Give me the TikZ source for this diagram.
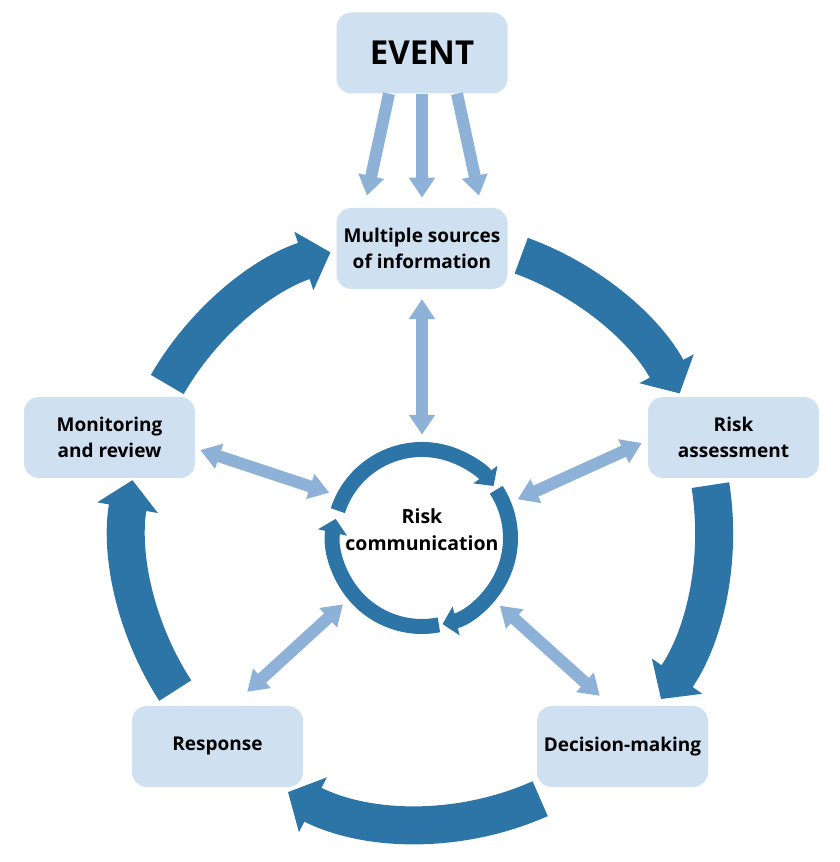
\documentclass[tikz,border=0pt]{standalone}
\usepackage{fontspec}
\setmainfont{Open Sans}
\usetikzlibrary{arrows.meta, positioning, calc}
\definecolor{boxblue}{HTML}{CFE0F1}
\definecolor{ringblue}{HTML}{2E75A7}
\definecolor{linkblue}{HTML}{8DB1D7}

\begin{document}
\begin{tikzpicture}[
    x=1pt, y=1pt,
    stage/.style={fill=boxblue, rounded corners=15pt, minimum width=171pt, minimum height=81pt, inner sep=2pt, align=center, font=\fontsize{19}{26.7}\selectfont\bfseries},
    cycle/.style={line width=38pt, ringblue, -{Triangle[length=28pt, width=60pt]}},
    ring/.style={line width=15pt, ringblue, -{Triangle[length=14pt, width=29pt]}},
    feed/.style={line width=12pt, linkblue, -{Triangle[length=20pt, width=25pt]}},
    link/.style={line width=12pt, linkblue, {Triangle[length=20pt, width=25pt]}-{Triangle[length=20pt, width=25pt]}}
  ]
    \useasboundingbox (0,0) rectangle (840,862);

    % Stages
    \node[stage, font=\fontsize{33}{40}\selectfont\bfseries] (event) at (422,809) {EVENT};
    \node[stage, below=114pt of event] (sources) {Multiple sources\\of information};
    \node[stage] (assess) at (733.5,424.5) {Risk\\assessment};
    \node[stage] (decide) at (622.5,115.5) {Decision-making};
    \node[stage] (respond) at (217.5,115.5) {Response};
    \node[stage] (monitor) at (109.5,424.5) {Monitoring\\and review};

    % Centre
    \coordinate (hub) at (421,331);
    \node[circle, minimum size=206pt, inner sep=0pt] (comm) at (422,324) {};
    \node[align=center, font=\fontsize{19.5}{26.7}\selectfont\bfseries] (commtext) at ([yshift=8pt]comm.center) {Risk\\communication};

    % Ring round the centre
    \draw[ring] ([shift={(162:88.5pt)}]comm.center) arc[start angle=162, end angle=36, radius=88.5pt];
    \draw[ring] ([shift={(33:88.5pt)}]comm.center) arc[start angle=33, end angle=-76.6, radius=88.5pt];
    \draw[ring] ([shift={(-79:88.5pt)}]comm.center) arc[start angle=-79, end angle=-192.5, radius=88.5pt];

    % Main cycle
    \draw[cycle] ([shift={(70:293pt)}]hub) arc[start angle=70, end angle=28, radius=293pt];
    \draw[cycle] ([shift={(9:293pt)}]hub) arc[start angle=9, end angle=-35, radius=293pt];
    \draw[cycle] ([shift={(-66:293pt)}]hub) arc[start angle=-66, end angle=-117, radius=293pt];
    \draw[cycle] ([shift={(-147:293pt)}]hub) arc[start angle=-147, end angle=-190, radius=293pt];
    \draw[cycle] ([shift={(150:293pt)}]hub) arc[start angle=150, end angle=108, radius=293pt];

    % Event feeds
    \draw[feed] ([xshift=-33pt]event.south) -- ([xshift=-55pt, yshift=12pt]sources.north);
    \draw[feed] (event.south) -- ([yshift=10pt]sources.north);
    \draw[feed] ([xshift=35pt]event.south) -- ([xshift=57pt, yshift=12pt]sources.north);

    % Links to risk communication
    \draw[link] ([yshift=-10pt]sources.south) -- (comm.90);
    \draw[link] (comm.22) -- ($(assess.west)+(-6pt,-5.5pt)$);
    \draw[link] (comm.-41) -- ($(decide.north west)+(63pt,10pt)$);
    \draw[link] (comm.220) -- ($(respond.north east)+(-56pt,14pt)$);
    \draw[link] (comm.154) -- ($(monitor.east)+(5pt,-12.5pt)$);
  \end{tikzpicture}
\end{document}
